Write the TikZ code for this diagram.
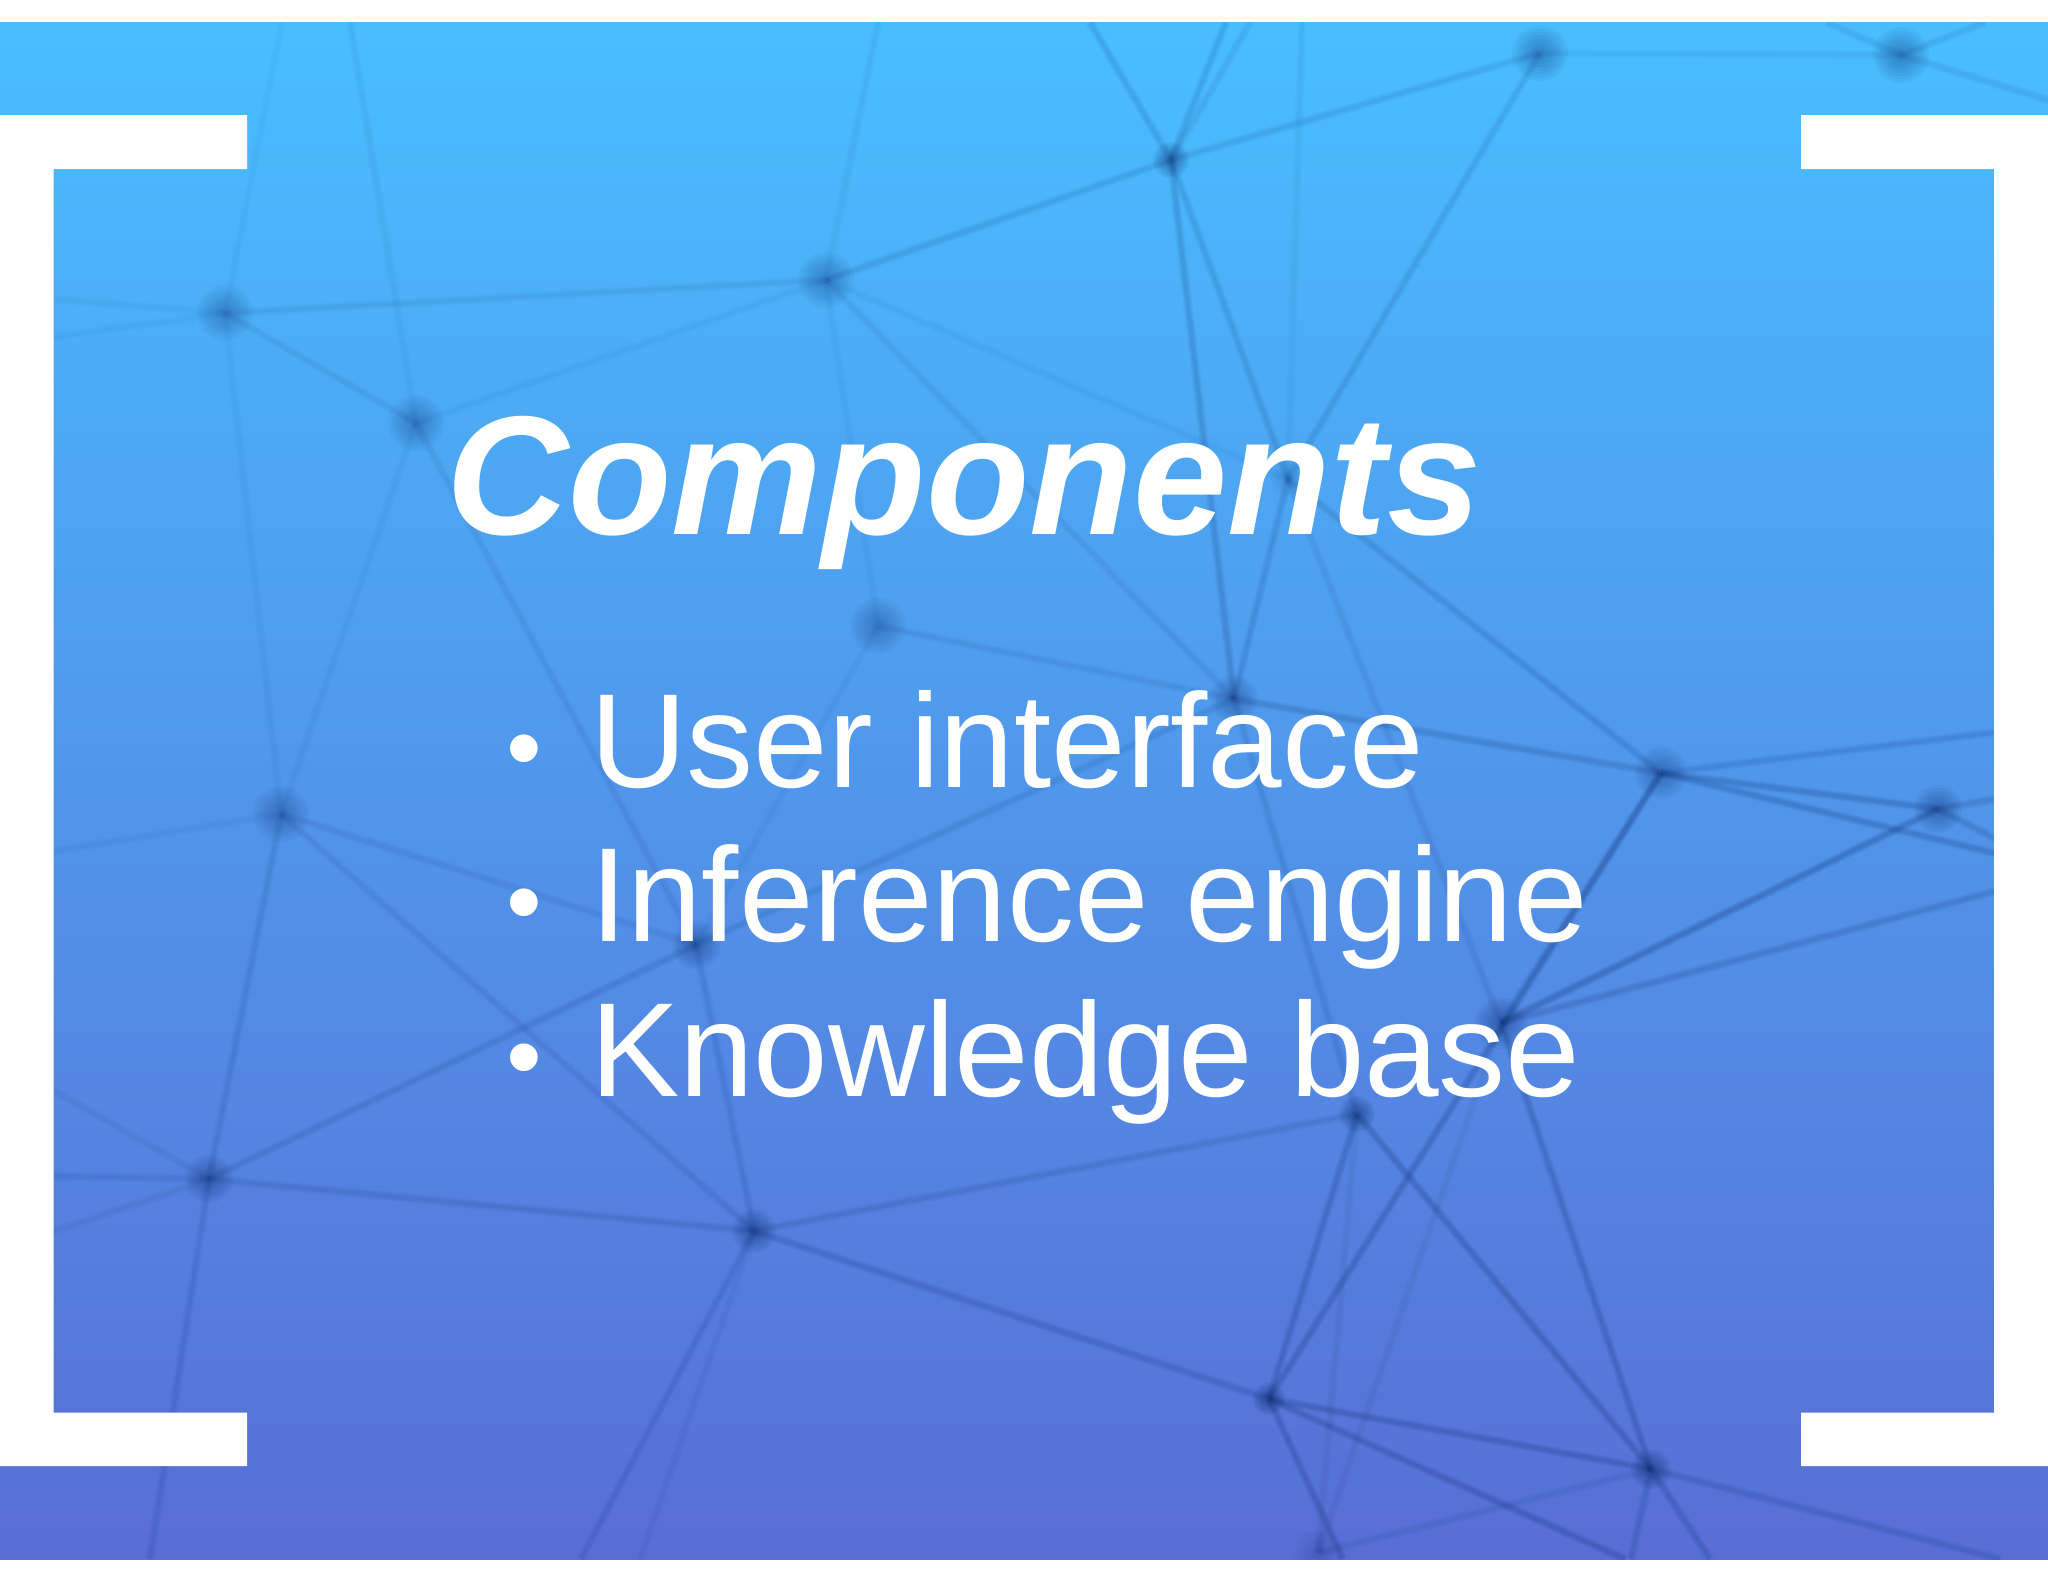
\documentclass[tikz,border=0pt]{standalone}
\usepackage{fontspec}
\setmainfont{Liberation Sans}
\definecolor{gradtop}{RGB}{73,190,255}
\definecolor{gradmid}{RGB}{79,152,232}
\definecolor{gradbot}{RGB}{88,110,214}
\definecolor{netcol}{RGB}{18,52,120}
\newcommand{\netedge}[3]{%
  \pgfmathsetmacro{\opA}{#3*0.05}%
  \foreach \w in {14,11.5,9.5,7.5,6,4.5}{%
    \draw[netcol,line width=\w pt,opacity=\opA] (#1) -- (#2);}}
\newcommand{\netdot}[3]{%
  \pgfmathsetmacro{\opA}{#3*0.075}%
  \foreach \f in {1,0.88,0.76,0.64,0.52,0.4,0.28,0.16}{%
    \fill[netcol,opacity=\opA] (#1) circle[radius=\f*#2];}}
\tikzset{
  titletext/.style={anchor=base west,inner sep=0pt,text=white,font=\fontsize{241}{241}\selectfont\bfseries\itshape},
  itemtext/.style={anchor=base west,inner sep=0pt,text=white,font=\fontsize{190.6}{190.6}\selectfont},
  bullettext/.style={anchor=base,inner sep=0pt,text=white,font=\fontsize{145}{145}\selectfont},
  bracket/.style={fill=white,draw=none}
}
\begin{document}
\begin{tikzpicture}[x=0.05cm,y=-0.05cm]
\useasboundingbox (0,0) rectangle (2048,1582);
\fill[white] (0,0) rectangle (2048,1582);
\shade[top color=gradtop,middle color=gradmid,bottom color=gradbot] (0,22.5) rectangle (2048,1559);
% network nodes
\coordinate (n1) at (225,313);
\coordinate (n2) at (416,423);
\coordinate (n3) at (826,280);
\coordinate (n4) at (878,626);
\coordinate (n5) at (1171,160);
\coordinate (n6) at (1540,53);
\coordinate (n7) at (1901,55);
\coordinate (n8) at (1234,699);
\coordinate (n9) at (1288,479);
\coordinate (n10) at (1661,773);
\coordinate (n11) at (281,814);
\coordinate (n12) at (696,945);
\coordinate (n13) at (209,1179);
\coordinate (n14) at (754,1231);
\coordinate (n15) at (1938,809);
\coordinate (n16) at (1501,1023);
\coordinate (n17) at (1357,1114);
\coordinate (n18) at (1269,1399);
\coordinate (n19) at (1651,1469);
\coordinate (n20) at (1318,1553);
% free line ends
\coordinate (a1) at (0,295);
\coordinate (a2) at (0,345);
\coordinate (a3) at (282,22.5);
\coordinate (a4) at (350,22.5);
\coordinate (a5) at (878,22.5);
\coordinate (a6) at (1090,22.5);
\coordinate (a7) at (1226,22.5);
\coordinate (a8) at (1250,22.5);
\coordinate (a9) at (1302,22.5);
\coordinate (a10) at (1827,22.5);
\coordinate (a11) at (1985,22.5);
\coordinate (a12) at (2048,100);
\coordinate (a13) at (2048,726);
\coordinate (a14) at (2048,866);
\coordinate (a15) at (2048,877);
\coordinate (a16) at (2048,790);
\coordinate (a17) at (0,860);
\coordinate (a18) at (0,1060);
\coordinate (a19) at (0,1175);
\coordinate (a20) at (0,1250);
\coordinate (a21) at (150,1559);
\coordinate (a22) at (581,1559);
\coordinate (a23) at (640,1559);
\coordinate (a24) at (1343,1559);
\coordinate (a25) at (1625,1559);
\coordinate (a26) at (1631,1559);
\coordinate (a27) at (1710,1559);
\coordinate (a28) at (2000,1559);
\begin{scope}
\clip (0,22.5) rectangle (2048,1559);
\netedge{n1}{a1}{.12}\netedge{n1}{a2}{.12}\netedge{n1}{n3}{.2}\netedge{n1}{n2}{.2}
\netedge{n1}{n11}{.18}\netedge{n1}{a3}{.1}\netedge{n2}{a4}{.12}\netedge{n2}{n3}{.16}
\netedge{n2}{n11}{.17}\netedge{n2}{n12}{.3}\netedge{n3}{a5}{.12}\netedge{n3}{n5}{.38}
\netedge{n3}{n4}{.13}\netedge{n3}{n9}{.16}\netedge{n3}{n8}{.25}\netedge{n4}{n8}{.22}
\netedge{n4}{n12}{.18}\netedge{n5}{a6}{.45}\netedge{n5}{a7}{.45}\netedge{n5}{a8}{.35}
\netedge{n5}{n6}{.42}\netedge{n5}{n8}{.6}\netedge{n5}{n9}{.5}\netedge{n9}{n8}{.5}
\netedge{n9}{n6}{.38}\netedge{n9}{a9}{.12}\netedge{n9}{n10}{.5}\netedge{n9}{n16}{.28}
\netedge{n6}{n7}{.15}\netedge{n7}{a10}{.3}\netedge{n7}{a11}{.3}\netedge{n7}{a12}{.35}
\netedge{n8}{n10}{.6}\netedge{n8}{n17}{.42}\netedge{n10}{n15}{.75}\netedge{n10}{a13}{.5}
\netedge{n10}{a14}{.75}\netedge{n10}{n16}{.5}\netedge{n10}{n18}{.85}\netedge{n15}{n16}{1.05}
\netedge{n15}{a16}{.6}\netedge{n15}{a14}{.6}\netedge{n16}{a15}{.6}\netedge{n17}{n18}{.75}
\netedge{n17}{n20}{.25}\netedge{n17}{n19}{.9}\netedge{n16}{n19}{.75}\netedge{n16}{n20}{.22}
\netedge{n17}{n14}{.5}\netedge{n18}{n19}{.9}\netedge{n18}{a24}{.75}\netedge{n18}{a25}{.85}
\netedge{n18}{n14}{.65}\netedge{n19}{a26}{.6}\netedge{n19}{a27}{.7}\netedge{n19}{a28}{.6}
\netedge{n19}{n20}{.35}\netedge{n11}{n13}{.4}\netedge{n11}{n12}{.22}\netedge{n11}{n14}{.3}
\netedge{n11}{a17}{.15}\netedge{n12}{n13}{.48}\netedge{n12}{n14}{.42}\netedge{n12}{n8}{.42}
\netedge{n13}{a18}{.22}\netedge{n13}{a19}{.28}\netedge{n13}{a20}{.22}\netedge{n13}{n14}{.5}
\netedge{n13}{a21}{.42}\netedge{n14}{a22}{.38}\netedge{n14}{a23}{.15}
\netdot{n1}{28}{.6}\netdot{n2}{28}{.65}\netdot{n3}{28}{.65}\netdot{n4}{28}{.6}
\netdot{n5}{18}{1}\netdot{n6}{28}{.75}\netdot{n7}{28}{.75}\netdot{n8}{24}{.75}
\netdot{n9}{18}{.25}\netdot{n10}{26}{.75}\netdot{n11}{28}{.65}\netdot{n12}{24}{.85}
\netdot{n13}{24}{.85}\netdot{n14}{22}{1}\netdot{n15}{24}{.85}\netdot{n16}{26}{.85}
\netdot{n17}{18}{1.15}\netdot{n18}{16}{1.25}\netdot{n19}{20}{1.15}\netdot{n20}{24}{.35}
\end{scope}
% brackets
\fill[bracket] (0,115) -- (247,115) -- (247,169) -- (53.5,169) -- (53.5,1412.5) -- (247,1412.5) -- (247,1466) -- (0,1466) -- cycle;
\fill[bracket] (2048,115) -- (1801,115) -- (1801,169) -- (1994,169) -- (1994,1412.5) -- (1801,1412.5) -- (1801,1466) -- (2048,1466) -- cycle;
% text
\node[titletext] (title) at (446,534) {Components};
\node[bullettext] (b1) at (524,782.5) {•};
\node[bullettext] (b2) at (524,936.5) {•};
\node[bullettext] (b3) at (524,1091.5) {•};
\node[itemtext] (i1) at (590,787) {User interface};
\node[itemtext] (i2) at (590,941) {Inference engine};
\node[itemtext] (i3) at (590,1096) {Knowledge base};
\end{tikzpicture}
\end{document}
